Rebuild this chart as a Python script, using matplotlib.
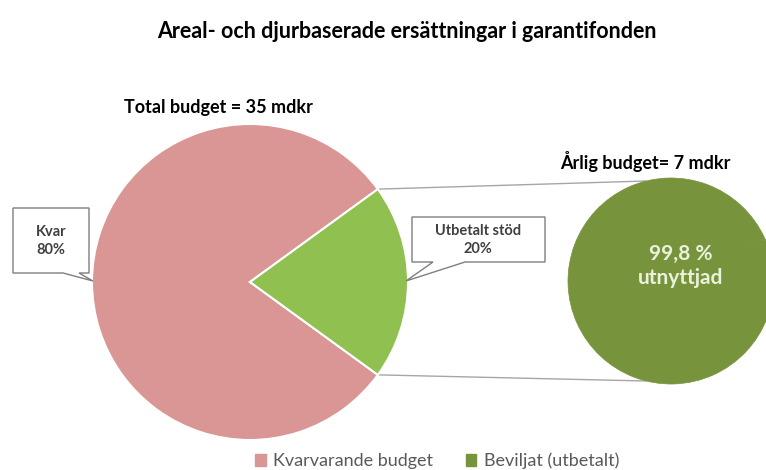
import math
import matplotlib.pyplot as plt
from matplotlib.patches import Patch, Polygon

# data
categories = ["Kvarvarande budget", "Beviljat (utbetalt)"]
shares = [80, 20]  # % of total budget: kvar, utbetalt
callout_labels = ["Kvar\n80%", "Utbetalt stöd\n20%"]
total_budget = 35  # mdkr
annual_budget = 7  # mdkr
utilized = [99.8, 0.2]  # % of annual budget used / unused

pink = "#D99694"
light_green = "#8FC050"
dark_green = "#77933C"
text_col = "#404040"

plt.rcParams["font.family"] = ["Lato", "DejaVu Sans"]

fig = plt.figure(figsize=(7.66, 4.70), dpi=100)
ax = fig.add_axes([0, 0, 1, 1])

H = 470  # flip helper, pixel y -> axes y

# main pie
c1 = (250, H - 282)
r1 = 158
start = shares[1] / 100 * 360 / 2
ax.pie(shares, colors=[pink, light_green], startangle=start,
       center=c1, radius=r1, frame=True,
       wedgeprops=dict(edgecolor="white", linewidth=1.5))

# annual budget pie (unused 0.2 % is not visible in the original)
c2 = (671, H - 281)
r2 = 103
ax.pie(utilized, colors=[dark_green, dark_green], startangle=24,
       counterclock=False, center=c2, radius=r2, frame=True,
       wedgeprops=dict(edgecolor=dark_green, linewidth=0.5))

ax.set_xlim(0, 766)
ax.set_ylim(0, 470)
ax.set_aspect("equal")
ax.axis("off")

# connector lines from green slice to second pie
a = math.radians(start)
top_tip = (c1[0] + r1 * math.cos(a), c1[1] + r1 * math.sin(a))
bot_tip = (c1[0] + r1 * math.cos(a), c1[1] - r1 * math.sin(a))
ax.plot([top_tip[0], c2[0] - 25], [top_tip[1], c2[1] + r2 - 3], color="#A6A6A6", lw=1, zorder=0)
ax.plot([bot_tip[0], c2[0] - 25], [bot_tip[1], c2[1] - r2 + 3], color="#A6A6A6", lw=1, zorder=0)

# callout boxes
kvar_pts = [(13, 208), (89, 208), (89, 273), (79, 273), (93, 281), (63, 273), (13, 273)]
utb_pts = [(412, 217), (545, 217), (545, 262), (465, 262), (406, 281), (433, 262), (412, 262)]
for pts in (kvar_pts, utb_pts):
    ax.add_patch(Polygon([(x, H - y) for x, y in pts], closed=True, fc="white",
                         ec="#7F7F7F", lw=1, zorder=5))
ax.text(51, H - 241, callout_labels[0], ha="center", va="center", fontsize=10.5,
        fontweight="bold", color=text_col, zorder=6, linespacing=1.35)
ax.text(478, H - 240, callout_labels[1], ha="center", va="center", fontsize=10.5,
        fontweight="bold", color=text_col, zorder=6, linespacing=1.35)

# text inside second pie
ax.text(681, H - 266, f"{utilized[0]:.1f} %\nutnyttjad".replace(".", ","), ha="center",
        va="center", fontsize=15, fontweight="bold", color="#EAF1DD", linespacing=1.3)

# headings
ax.text(407, H - 32, "Areal- och djurbaserade ersättningar i garantifonden", ha="center",
        va="center", fontsize=15.5, fontweight="bold", color="black")
ax.text(218, H - 107, f"Total budget = {total_budget} mdkr", ha="center", va="center",
        fontsize=13, fontweight="bold", color="black")
ax.text(645, H - 161, f"Årlig budget= {annual_budget} mdkr", ha="center", va="center",
        fontsize=13, fontweight="bold", color="black")

handles = [Patch(color=pink), Patch(color=dark_green)]
ax.legend(handles, categories, loc="center", bbox_to_anchor=(437 / 766, 1 - 461 / 470),
          ncol=2, frameon=False, fontsize=13, handlelength=0.6, handleheight=0.6,
          handletextpad=0.4, columnspacing=1.8, labelcolor="#595959")

fig.savefig("out.png", dpi=100)
